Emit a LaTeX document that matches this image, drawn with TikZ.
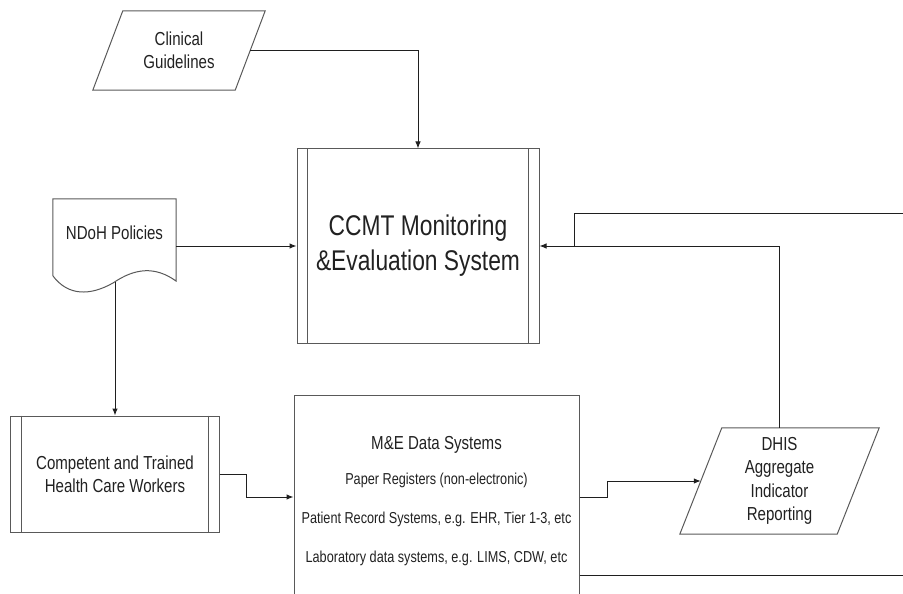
\documentclass[tikz,border=0pt]{standalone}
\usepackage{fontspec}
\setmainfont{Liberation Sans}[FakeStretch=0.8]
\usepackage{tikz}
\usetikzlibrary{arrows.meta}
\usetikzlibrary{calc}
\newcommand\labelsize{\fontsize{18.9}{23.5}\selectfont}
\newcommand\ccmtsize{\fontsize{28.6}{35}\selectfont}
\newcommand\listsize{\fontsize{15.9}{39}\selectfont}
\definecolor{boxline}{gray}{0.35}
\definecolor{flowline}{gray}{0.12}
\definecolor{inktext}{gray}{0.13}
\tikzset{boxtext/.style = {inner sep = 0, align = center, text = inktext, font = \labelsize}}
\tikzset{process/.style = {boxtext, draw = boxline, line width = 1bp}}
\tikzset{arrow/.style = {draw = flowline, line width = 1bp, -{Latex[length = 7bp, width = 5.5bp]}}}
\tikzset{plain/.style = {draw = flowline, line width = 1bp}}

\begin{document}
\begin{tikzpicture}[x = 1bp, y = -1bp]
    \useasboundingbox (0, 0) rectangle (903, 594);
    \clip (0, 0) rectangle (903, 594);

    \node [boxtext, minimum width = 142bp, minimum height = 79bp] (clin) at (179, 50.5) {Clinical\\Guidelines};
    \node [process, minimum width = 242bp, minimum height = 194bp, font = \ccmtsize] (ccmt) at (418, 246) {CCMT Monitoring\\\&Evaluation System};
    \node [boxtext, minimum width = 123bp, minimum height = 68bp] (ndoh) at (114.5, 233) {NDoH Policies};
    \node [process, minimum width = 208bp, minimum height = 116bp] (cw) at (115, 474) {Competent and Trained\\Health Care Workers};
    \node [process, minimum width = 285bp, minimum height = 212bp, font = \listsize] (mne) at (436.5, 501) {%
      {\labelsize M\&E Data Systems}\\[-4bp]
      Paper Registers (non-electronic)\\
      Patient Record Systems, e.g. EHR, Tier 1-3, etc\\
      Laboratory data systems, e.g. LIMS, CDW, etc};
    \node [boxtext, minimum width = 157bp, minimum height = 106bp] (dhis) at (779.5, 481) {DHIS\\Aggregate\\Indicator\\Reporting};

    % data and input shapes
    \foreach \n/\s in {clin/15, dhis/21} {
      \draw [boxline, line width = 1bp] ([xshift = \s bp]\n.north west) -- ([xshift = \s bp]\n.north east)
        -- ([xshift = -\s bp]\n.south east) -- ([xshift = -\s bp]\n.south west) -- cycle;
    }
    \draw [boxline, line width = 1bp] (ndoh.north west) -- (ndoh.north east) -- (176, 281)
      .. controls (155, 266) and (135, 268) .. (113, 283)
      .. controls (90, 296) and (68, 296) .. (53, 276) -- cycle;
    \foreach \n in {ccmt, cw} {
      \draw [boxline, line width = 1bp] ([xshift = 11bp]\n.north west) -- ([xshift = 11bp]\n.south west);
      \draw [boxline, line width = 1bp] ([xshift = -11bp]\n.north east) -- ([xshift = -11bp]\n.south east);
    }

    \coordinate (ndohfoot) at (115, 282);
    \coordinate (rtop) at (903, 214);
    \coordinate (rbottom) at (903, 575);

    \draw [arrow] (clin.east) -| (ccmt.north);
    \draw [arrow] (ndoh.east |- ccmt.west) -- (ccmt.west);
    \draw [arrow] (ndohfoot) -- (cw.north);
    \draw [arrow] (cw.east) -- ++(27, 0) |- ([yshift = 4bp]mne.west);
    \draw [arrow] ([yshift = 4bp]mne.east) -- ++(28, 0) |- (dhis.west);
    \draw [arrow] (dhis.north) |- (ccmt.east);
    \draw [plain] (rtop) -| ([xshift = 35bp]ccmt.east);
    \draw [plain] (mne.east |- rbottom) -- (rbottom);
  \end{tikzpicture}
\end{document}
